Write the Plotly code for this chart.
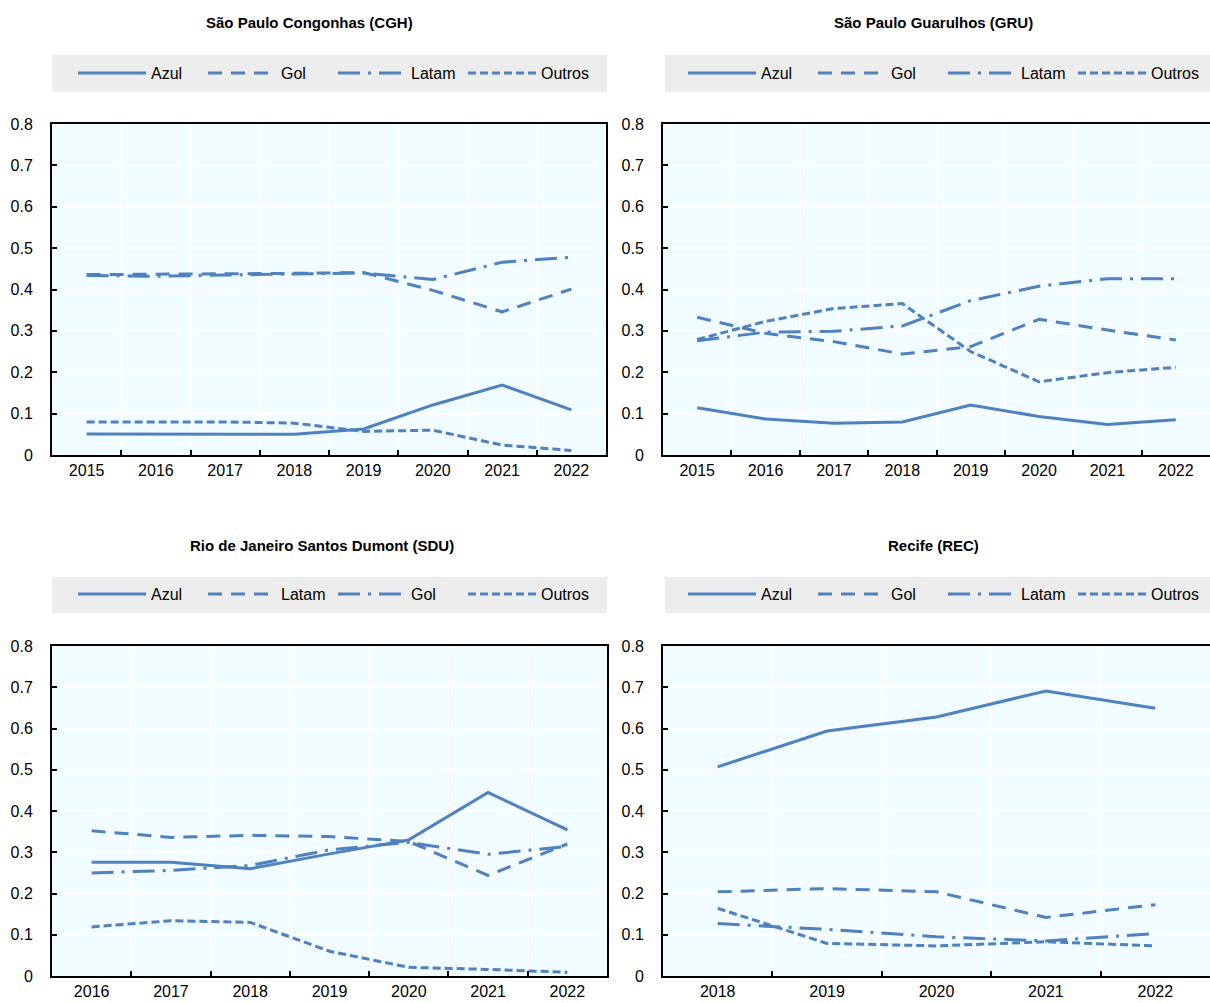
import plotly.graph_objects as go

# ---------------- data ----------------
years_cgh = ["2015", "2016", "2017", "2018", "2019", "2020", "2021", "2022"]
cgh_azul = [0.051, 0.051, 0.050, 0.050, 0.063, 0.121, 0.169, 0.109]
cgh_gol = [0.436, 0.437, 0.437, 0.439, 0.441, 0.398, 0.346, 0.401]
cgh_latam = [0.434, 0.432, 0.435, 0.438, 0.440, 0.424, 0.466, 0.478]
cgh_outros = [0.080, 0.080, 0.080, 0.077, 0.057, 0.060, 0.024, 0.011]

years_gru = ["2015", "2016", "2017", "2018", "2019", "2020", "2021", "2022"]
gru_azul = [0.114, 0.087, 0.077, 0.080, 0.121, 0.093, 0.074, 0.085]
gru_gol = [0.333, 0.294, 0.274, 0.244, 0.262, 0.328, 0.302, 0.278]
gru_latam = [0.276, 0.297, 0.299, 0.312, 0.373, 0.408, 0.426, 0.426]
gru_outros = [0.279, 0.323, 0.354, 0.366, 0.250, 0.177, 0.199, 0.212]

years_sdu = ["2016", "2017", "2018", "2019", "2020", "2021", "2022"]
sdu_azul = [0.276, 0.276, 0.260, 0.296, 0.330, 0.445, 0.354]
sdu_latam = [0.352, 0.336, 0.341, 0.338, 0.326, 0.244, 0.320]
sdu_gol = [0.250, 0.256, 0.268, 0.306, 0.324, 0.295, 0.314]
sdu_outros = [0.119, 0.134, 0.130, 0.060, 0.021, 0.016, 0.009]

years_rec = ["2018", "2019", "2020", "2021", "2022"]
rec_azul = [0.507, 0.594, 0.628, 0.691, 0.649]
rec_gol = [0.204, 0.212, 0.204, 0.142, 0.173]
rec_latam = [0.127, 0.113, 0.095, 0.085, 0.103]
rec_outros = [0.164, 0.079, 0.073, 0.083, 0.073]

titles = ["São Paulo Congonhas (CGH)", "São Paulo Guarulhos (GRU)",
          "Rio de Janeiro Santos Dumont (SDU)", "Recife (REC)"]

y_ticks = [0, 0.1, 0.2, 0.3, 0.4, 0.5, 0.6, 0.7, 0.8]

# ---------------- style ----------------
W, H = 1210, 1003
COLOR = "#4E81BD"
FONT = "Liberation Sans, Arial, sans-serif"
DASHES = ["solid", "14px,9px", "22px,8px,3px,8px", "8px,4px"]

panels = [
    dict(years=years_cgh, series=[("Azul", cgh_azul), ("Gol", cgh_gol), ("Latam", cgh_latam), ("Outros", cgh_outros)],
         px=(52, 606), py=(124, 455), title_x=309, title_y=22, leg_x=73, leg_y=73, box=(52, 607, 55, 92), mirror_y=True),
    dict(years=years_gru, series=[("Azul", gru_azul), ("Gol", gru_gol), ("Latam", gru_latam), ("Outros", gru_outros)],
         px=(663, 1211), py=(124, 455), title_x=933, title_y=22, leg_x=683, leg_y=73, box=(665, 1210, 55, 92), mirror_y=False),
    dict(years=years_sdu, series=[("Azul", sdu_azul), ("Latam", sdu_latam), ("Gol", sdu_gol), ("Outros", sdu_outros)],
         px=(52, 607), py=(646, 976), title_x=322, title_y=545, leg_x=73, leg_y=594, box=(52, 607, 577, 613), mirror_y=True),
    dict(years=years_rec, series=[("Azul", rec_azul), ("Gol", rec_gol), ("Latam", rec_latam), ("Outros", rec_outros)],
         px=(663, 1211), py=(646, 976), title_x=933, title_y=545, leg_x=683, leg_y=594, box=(665, 1210, 577, 613), mirror_y=False),
]

fig = go.Figure()
layout = dict(
    width=W, height=H,
    margin=dict(l=0, r=0, t=0, b=0, autoexpand=False),
    paper_bgcolor="white",
    plot_bgcolor="#F0FCFF",
    font=dict(family=FONT, size=16, color="black"),
    shapes=[], annotations=[],
)

def fx(p):
    return min(max(p / W, 0), 1)

def fy(p):
    return min(max(1 - p / H, 0), 1)

for i, p in enumerate(panels):
    n = i + 1
    xa = "xaxis" if n == 1 else f"xaxis{n}"
    ya = "yaxis" if n == 1 else f"yaxis{n}"
    xr = "x" if n == 1 else f"x{n}"
    yr = "y" if n == 1 else f"y{n}"
    lg = "legend" if n == 1 else f"legend{n}"

    for k, (name, vals) in enumerate(p["series"]):
        fig.add_trace(go.Scatter(
            x=p["years"], y=vals, name=name, mode="lines",
            line=dict(color=COLOR, width=3, dash=DASHES[k]),
            xaxis=xr, yaxis=yr, legend=lg, hoverinfo="x+y+name",
        ))

    layout[xa] = dict(
        domain=[fx(p["px"][0]), fx(p["px"][1])],
        anchor=yr, type="category",
        range=[-0.5, len(p["years"]) - 0.5],
        tickson="boundaries", ticks="inside", ticklen=5, tickwidth=2, tickcolor="black",
        showgrid=True, gridcolor="white", gridwidth=2,
        showline=True, linecolor="black", linewidth=2, mirror=True,
        tickfont=dict(size=16, family=FONT),
        fixedrange=True,
    )
    layout[ya] = dict(
        domain=[fy(p["py"][1]), fy(p["py"][0])],
        anchor=xr, range=[0, 0.8], tickvals=y_ticks,
        ticktext=[("%g" % v) for v in y_ticks],
        ticks="inside", ticklen=5, tickwidth=2, tickcolor="black",
        showgrid=True, gridcolor="white", gridwidth=2, zeroline=False,
        showline=True, linecolor="black", linewidth=2, mirror=p["mirror_y"],
        ticklabelstandoff=14,
        tickfont=dict(size=16, family=FONT),
        fixedrange=True,
    )
    bx0, bx1, by0, by1 = p["box"]
    layout["shapes"].append(dict(
        type="rect", xref="paper", yref="paper", layer="below",
        x0=fx(bx0), x1=fx(bx1), y0=fy(by1), y1=fy(by0),
        fillcolor="#EDEDED", line=dict(width=0),
    ))
    layout[lg] = dict(
        orientation="h", xanchor="left", yanchor="middle",
        x=fx(p["leg_x"]), y=fy(p["leg_y"]),
        bgcolor="rgba(0,0,0,0)", itemwidth=68, entrywidth=47,
        font=dict(size=16, family=FONT), traceorder="normal",
    )
    layout["annotations"].append(dict(
        text="<b>" + titles[i] + "</b>", xref="paper", yref="paper",
        x=fx(p["title_x"]), y=fy(p["title_y"]), xanchor="center", yanchor="middle",
        showarrow=False, font=dict(size=15, family=FONT),
    ))

fig.update_layout(**layout)
fig.write_html("out.html", config={"displayModeBar": False},
               post_script="document.body.style.margin='0';")
